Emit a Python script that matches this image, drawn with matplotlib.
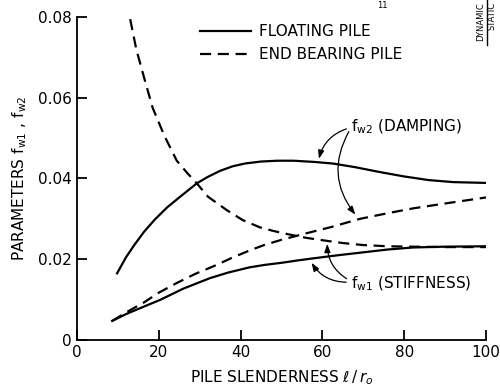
import matplotlib
matplotlib.use('agg')
import matplotlib.pyplot as plt

# floating pile, damping f_w2
float_damp_x = [9.8, 12, 14, 16.4, 19, 22, 25, 29.3, 32, 35, 38, 41, 45, 49, 53, 58, 62.6, 68, 74, 80, 86, 92, 100]
float_damp_y = [0.0165, 0.0205, 0.0235, 0.0268, 0.0298, 0.0328, 0.0353, 0.0388, 0.0404, 0.0419, 0.0430, 0.0437,
                0.0442, 0.0444, 0.0444, 0.0441, 0.0437, 0.0428, 0.0416, 0.0405, 0.0396, 0.0391, 0.0389]
# end bearing pile, damping f_w2
end_damp_x = [13, 14.5, 16.4, 18.5, 21.4, 24.4, 27, 29.3, 32, 36.7, 40.5, 44.7, 48, 52, 56, 60, 65, 70, 76, 82, 90, 100]
end_damp_y = [0.0795, 0.0720, 0.0650, 0.0575, 0.0505, 0.0444, 0.0413, 0.0388, 0.0355, 0.0321, 0.0297, 0.0279,
              0.0270, 0.0261, 0.0253, 0.0247, 0.0240, 0.0235, 0.0232, 0.0231, 0.0230, 0.0230]
# end bearing pile, stiffness f_w1
end_stiff_x = [8.6, 12, 16.4, 20, 24.4, 29, 34.2, 38, 42.3, 46, 50, 56, 61.9, 69.2, 76, 82.2, 90, 100]
end_stiff_y = [0.0047, 0.0068, 0.0093, 0.0117, 0.0141, 0.0164, 0.0186, 0.0204, 0.0222, 0.0236, 0.0248, 0.0264,
               0.0279, 0.0300, 0.0314, 0.0326, 0.0338, 0.0353]
# floating pile, stiffness f_w1
float_stiff_x = [8.6, 12, 16, 20.3, 26, 32.5, 37, 42.3, 46, 50, 54, 57.7, 64, 70, 76, 82.2, 90, 100]
float_stiff_y = [0.0047, 0.0064, 0.0081, 0.0099, 0.0127, 0.0153, 0.0167, 0.0180, 0.0186, 0.0191, 0.0197, 0.0202,
                 0.0210, 0.0217, 0.0224, 0.0229, 0.0231, 0.0232]

x_ticks = [0, 20, 40, 60, 80, 100]
y_ticks = [0, 0.02, 0.04, 0.06, 0.08]
y_labels = ['0', '0.02', '0.04', '0.06', '0.08']

plt.rcParams['font.family'] = ['DejaVu Sans']
fig = plt.figure(figsize=(5, 3.88), dpi=100)
ax = fig.add_axes([0.154, 0.124, 0.818, 0.832])

lkw = dict(color='black', lw=1.6, solid_joinstyle='round', dash_joinstyle='round')
ax.plot(float_damp_x, float_damp_y, **lkw)
ax.plot(float_stiff_x, float_stiff_y, **lkw)
ax.plot(end_damp_x, end_damp_y, dashes=(5, 3), **lkw)
ax.plot(end_stiff_x, end_stiff_y, dashes=(5, 3), **lkw)

ax.set_xlim(0, 100)
ax.set_ylim(0, 0.08)
ax.set_xticks(x_ticks)
ax.set_xticklabels([str(t) for t in x_ticks])
ax.set_yticks(y_ticks)
ax.set_yticklabels(y_labels)
ax.tick_params(direction='in', length=7, width=1.3, labelsize=11, pad=4)
for s in ['top', 'right']:
    ax.spines[s].set_visible(False)
for s in ['left', 'bottom']:
    ax.spines[s].set_linewidth(1.3)

ax.set_xlabel(r'PILE SLENDERNESS $\ell\,/\,r_o$', fontsize=11, labelpad=6)
ax.set_ylabel(r'PARAMETERS $\mathregular{f_{w1}}$ , $\mathregular{f_{w2}}$', fontsize=11, labelpad=6)

# legend drawn by hand
ax.plot([30, 42.5], [0.0765, 0.0765], color='black', lw=1.6)
ax.plot([30, 42.5], [0.0708, 0.0708], color='black', lw=1.6, dashes=(5, 3))
ax.text(44.5, 0.0765, 'FLOATING PILE', fontsize=11, va='center')
ax.text(44.5, 0.0708, 'END BEARING PILE', fontsize=11, va='center')

akw = dict(arrowstyle='-|>,head_length=0.5,head_width=0.18', color='black', lw=0.9)
ax.text(67, 0.0528, r'$\mathregular{f_{w2}}$ (DAMPING)', fontsize=11, va='center')
ax.annotate('', xy=(59, 0.0442), xytext=(66.5, 0.0525), arrowprops=dict(connectionstyle='arc3,rad=0.3', **akw))
ax.annotate('', xy=(68.5, 0.0305), xytext=(66.8, 0.0522), arrowprops=dict(connectionstyle='arc3,rad=0.35', **akw))

ax.text(67, 0.0140, r'$\mathregular{f_{w1}}$ (STIFFNESS)', fontsize=11, va='center')
ax.annotate('', xy=(57, 0.0197), xytext=(66.5, 0.0143), arrowprops=dict(connectionstyle='arc3,rad=-0.3', **akw))
ax.annotate('', xy=(61.2, 0.0245), xytext=(66.5, 0.0148), arrowprops=dict(connectionstyle='arc3,rad=-0.3', **akw))

# fragments of the neighbouring figure at the page edge
fig.text(0.764, 0.998, '11', fontsize=6, ha='center', va='top')
fig.text(0.962, 0.995, 'DYNAMIC', fontsize=6, rotation=90, ha='center', va='top')
fig.text(0.984, 0.995, 'STATIC', fontsize=6, rotation=90, ha='center', va='top')
fig.add_artist(plt.Line2D([0.973, 0.973], [0.885, 1.0], transform=fig.transFigure, color='black', lw=1))

fig.savefig('out.png', dpi=100)
